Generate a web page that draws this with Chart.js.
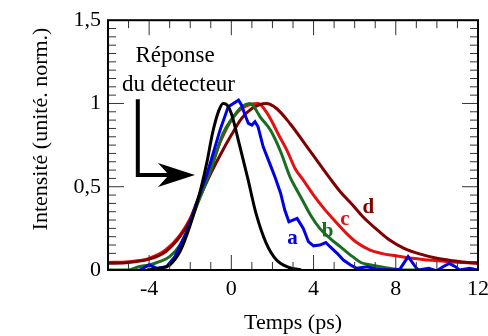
<!DOCTYPE html>
<html>
<head>
<meta charset="utf-8">
<script src="https://cdn.jsdelivr.net/npm/chart.js@4"></script>
<style>
  html, body { margin: 0; padding: 0; background: #fff; }
  #wrap { width: 488px; height: 336px; }
</style>
</head>
<body>
<div id="wrap"><canvas id="pulseChart" width="488" height="336"></canvas></div>
<script>
// tick labels
const xTickVals = [-4, 0, 4, 8, 12];
const yTickVals = [0, 0.5, 1, 1.5];

// detector response (black)
const tBlack = [-4.1, -3.5, -3.0, -2.5, -2.0, -1.5, -1.2, -0.9, -0.6, -0.4, -0.2, 0.0, 0.4, 0.8, 1.2, 1.7, 2.2, 2.8, 3.4];
const vBlack = [0, 0.01, 0.03, 0.11, 0.27, 0.48, 0.64, 0.83, 0.96, 1.0, 0.99, 0.94, 0.75, 0.55, 0.34, 0.16, 0.06, 0.015, 0];

// a (blue)
const tA = [-4.45, -4.0, -3.6, -3.15, -2.75, -2.2, -1.7, -1.2, -0.55, -0.15, 0.1, 0.35, 0.5, 0.67, 0.83, 1.0, 1.15, 1.3, 1.55, 1.9,
            2.15, 2.4, 2.6, 2.8, 3.0, 3.2, 3.5, 3.75, 4.0, 4.3, 4.6, 4.8, 5.15, 5.45, 5.8, 6.1, 6.6, 7.1, 7.7, 8.2,
            8.6, 8.95, 9.1, 9.6, 10.0, 10.3, 10.6, 10.9, 11.1, 11.6, 12.0];
const vA = [0, 0.03, 0.01, 0.02, 0.08, 0.22, 0.4, 0.57, 0.84, 0.98, 1.0, 1.02, 0.99, 0.93, 0.88, 0.87, 0.89, 0.86, 0.74, 0.63,
            0.55, 0.46, 0.36, 0.29, 0.3, 0.31, 0.25, 0.17, 0.145, 0.15, 0.165, 0.14, 0.1, 0.06, 0.03, 0.01, 0.02, 0.005, 0, 0.005,
            0.08, 0.02, 0, 0.01, -0.005, 0.02, 0.04, 0.02, 0, 0.01, 0];

// b (green)
const tB = [-6, -5.0, -4.5, -4.0, -3.5, -3.0, -2.5, -2.0, -1.7, -1.0, -0.4, 0.1, 0.5, 0.9, 1.1, 1.4, 1.9, 2.4, 2.85, 3.1,
            3.5, 3.85, 4.3, 4.8, 5.3, 5.9, 6.3, 6.6, 7.25, 7.7, 8.5, 9.2];
const vB = [0, 0, 0.02, 0.03, 0.05, 0.08, 0.15, 0.28, 0.38, 0.6, 0.82, 0.92, 0.98, 1.0, 0.98, 0.92, 0.84, 0.71, 0.56, 0.5,
            0.41, 0.33, 0.25, 0.19, 0.14, 0.08, 0.045, 0.035, 0.02, 0.01, 0, 0];

// c (red)
const tC = [-6, -5, -4, -3.2, -2.5, -2.0, -1.7, -1.0, -0.5, 0, 0.5, 1.3, 1.75, 2.35, 2.7, 3.1, 3.5, 4.0, 4.5, 5.0,
            5.6, 6.1, 6.75, 7.3, 8.0, 8.8, 9.6, 10.5, 11.3, 12];
const vC = [0.045, 0.05, 0.07, 0.12, 0.21, 0.31, 0.4, 0.62, 0.78, 0.9, 0.97, 1.0, 0.94, 0.8, 0.72, 0.61, 0.54, 0.45, 0.37, 0.3,
            0.22, 0.165, 0.12, 0.1, 0.085, 0.07, 0.06, 0.05, 0.045, 0.04];

// d (dark red)
const tD = [-6, -5, -4, -3.2, -2.5, -2.0, -1.7, -1.0, -0.5, 0, 0.5, 1.0, 1.7, 2.2, 2.85, 3.8, 4.8, 5.3, 5.9, 6.4,
            7.2, 7.7, 8.4, 9.2, 10, 10.8, 11.5, 12];
const vD = [0.04, 0.045, 0.065, 0.11, 0.2, 0.3, 0.39, 0.58, 0.7, 0.81, 0.91, 0.97, 1.0, 0.97, 0.88, 0.72, 0.55, 0.47, 0.39, 0.32,
            0.23, 0.18, 0.13, 0.095, 0.07, 0.055, 0.045, 0.04];

const serif = "'Liberation Serif', 'DejaVu Serif', serif";

function toPoints(ts, vs) {
    return ts.map((t, i) => ({ x: t, y: vs[i] }));
}

// curve labels, placed in data units (x centre, baseline)
const curveLabels = [
    { text: 'a', x: 2.98, y: 0.158, color: '#0000e6' },
    { text: 'b', x: 4.68, y: 0.2, color: '#1a6e22' },
    { text: 'c', x: 5.53, y: 0.27, color: '#e61010' },
    { text: 'd', x: 6.66, y: 0.345, color: '#800000' }
];

// frame, inward ticks and the annotations
const decorPlugin = {
    id: 'decor',
    afterDatasetsDraw(chart) {
        const ctx = chart.ctx;
        const a = chart.chartArea;
        const xs = chart.scales.x, ys = chart.scales.y;
        ctx.save();

        // ticks on all four sides
        ctx.strokeStyle = '#333';
        ctx.lineWidth = 1;
        ctx.beginPath();
        for (let v = -5; v <= 11; v++) {
            const px = xs.getPixelForValue(v);
            const len = (v % 4 === 0) ? 15 : 8;
            ctx.moveTo(px, a.bottom); ctx.lineTo(px, a.bottom - len);
            ctx.moveTo(px, a.top); ctx.lineTo(px, a.top + len);
        }
        for (let k = 1; k < 30; k++) {
            const py = ys.getPixelForValue(k * 0.05);
            const len = (k % 10 === 0) ? 16 : 8;
            ctx.moveTo(a.left, py); ctx.lineTo(a.left + len, py);
            ctx.moveTo(a.right, py); ctx.lineTo(a.right - len, py);
        }
        ctx.stroke();

        // frame
        ctx.strokeStyle = '#000';
        ctx.lineWidth = 2;
        ctx.strokeRect(a.left, a.top, a.right - a.left, a.bottom - a.top);

        // curve labels
        ctx.font = 'bold 21px ' + serif;
        ctx.textAlign = 'center';
        ctx.textBaseline = 'alphabetic';
        curveLabels.forEach(l => {
            ctx.fillStyle = l.color;
            ctx.fillText(l.text, xs.getPixelForValue(l.x), ys.getPixelForValue(l.y));
        });

        // "Réponse du détecteur" note
        ctx.fillStyle = '#000';
        ctx.font = '23px ' + serif;
        ctx.fillText('Réponse', xs.getPixelForValue(-2.74), ys.getPixelForValue(1.25));
        ctx.fillText('du détecteur', xs.getPixelForValue(-2.57), ys.getPixelForValue(1.076));

        // bent arrow
        const x0 = xs.getPixelForValue(-4.55);
        const yTop = ys.getPixelForValue(1.025);
        const yc = ys.getPixelForValue(0.57);
        const tip = xs.getPixelForValue(-1.77);
        ctx.lineWidth = 4;
        ctx.lineJoin = 'miter';
        ctx.beginPath();
        ctx.moveTo(x0, yTop);
        ctx.lineTo(x0, yc);
        ctx.lineTo(tip - 26, yc);
        ctx.stroke();
        ctx.beginPath();
        ctx.moveTo(tip, yc);
        ctx.lineTo(tip - 37, yc - 12);
        ctx.lineTo(tip - 26, yc);
        ctx.lineTo(tip - 37, yc + 12);
        ctx.closePath();
        ctx.fill();

        // y axis title
        ctx.font = '22px ' + serif;
        ctx.translate(41, 129);
        ctx.rotate(-Math.PI / 2);
        ctx.textBaseline = 'middle';
        ctx.fillText('Intensité (unité. norm.)', 0, 0);

        ctx.restore();
    }
};

const ctx = document.getElementById('pulseChart').getContext('2d');
new Chart(ctx, {
    type: 'line',
    data: {
        datasets: [
            { label: 'détecteur', data: toPoints(tBlack, vBlack), borderColor: '#000000', cubicInterpolationMode: 'monotone' },
            { label: 'a', data: toPoints(tA, vA), borderColor: '#0000e6', tension: 0 },
            { label: 'b', data: toPoints(tB, vB), borderColor: '#1a6e22', cubicInterpolationMode: 'monotone' },
            { label: 'd', data: toPoints(tD, vD), borderColor: '#800000', cubicInterpolationMode: 'monotone' },
            { label: 'c', data: toPoints(tC, vC), borderColor: '#e61010', cubicInterpolationMode: 'monotone' }
        ]
    },
    options: {
        responsive: false,
        animation: false,
        devicePixelRatio: 1,
        layout: { padding: { top: 20, right: 10, left: 0, bottom: 0 } },
        elements: {
            line: { borderWidth: 3, fill: false },
            point: { radius: 0 }
        },
        plugins: {
            legend: { display: false },
            tooltip: { enabled: false }
        },
        scales: {
            x: {
                type: 'linear',
                min: -6,
                max: 12,
                afterBuildTicks: s => { s.ticks = xTickVals.map(v => ({ value: v })); },
                afterFit: s => { s.height = 66; s.paddingLeft = 0; s.paddingRight = 0; },
                ticks: { font: { family: serif, size: 22 }, color: '#000', padding: 6, maxRotation: 0, autoSkip: false },
                grid: { display: false, drawTicks: false },
                border: { display: false },
                title: { display: true, text: 'Temps (ps)', color: '#000', font: { family: serif, size: 22 }, padding: { top: 0, bottom: 0 } }
            },
            y: {
                type: 'linear',
                min: 0,
                max: 1.5,
                afterBuildTicks: s => { s.ticks = yTickVals.map(v => ({ value: v })); },
                afterFit: s => { s.width = 108; },
                ticks: {
                    font: { family: serif, size: 22 },
                    color: '#000',
                    padding: 7,
                    callback: v => String(v).replace('.', ',')
                },
                grid: { display: false, drawTicks: false },
                border: { display: false }
            }
        }
    },
    plugins: [decorPlugin]
});
</script>
</body>
</html>
